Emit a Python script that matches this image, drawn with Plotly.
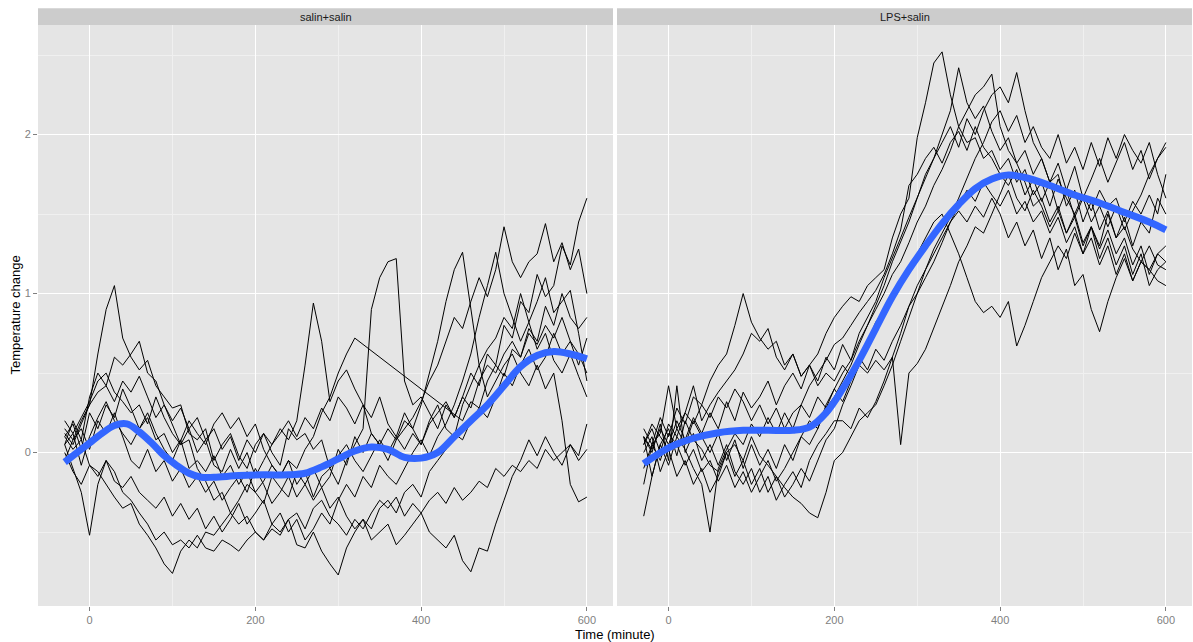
import plotly.graph_objects as go

# Sampling times (minutes) shared by every recorded series: -30 .. 600 every 10 min
TIME = [-30, -20, -10, 0, 10, 20, 30, 40,
        50, 60, 70, 80, 90, 100, 110, 120,
        130, 140, 150, 160, 170, 180, 190, 200,
        210, 220, 230, 240, 250, 260, 270, 280,
        290, 300, 310, 320, 330, 340, 350, 360,
        370, 380, 390, 400, 410, 420, 430, 440,
        450, 460, 470, 480, 490, 500, 510, 520,
        530, 540, 550, 560, 570, 580, 590, 600]

PANELS = ["salin+salin", "LPS+salin"]

# ---- salin+salin : temperature change per animal ----
sal_a = [0.12, 0.05, 0.18, 0.3, 0.62, 0.9, 1.05, 0.72,
         0.6, 0.52, 0.58, 0.42, 0.35, 0.28, 0.3, 0.12,
         0.08, 0.15, -0.05, 0.05, 0.12, -0.02, -0.1, 0.05,
         0.12, 0.0, -0.08, 0.15, 0.08, 0.12, 0.02, 0.08,
         -0.1, -0.02, 0.05, -0.05, -0.12, -0.02, 0.08, 0.0,
         0.1, 0.02, 0.12, 0.05, 0.18, 0.25, 0.32, 0.22,
         0.35, 0.5, 0.42, 0.62, 0.55, 0.8, 0.72, 0.95,
         0.88, 1.12, 0.98, 1.05, 1.3, 1.18, 1.45, 1.6]
sal_b = [0.05, 0.2, 0.08, 0.35, 0.5, 0.42, 0.6, 0.55,
         0.62, 0.7, 0.5, 0.45, 0.3, 0.18, 0.05, 0.08,
         -0.1, -0.18, -0.3, -0.25, -0.38, -0.45, -0.4, -0.5,
         -0.55, -0.48, -0.52, -0.42, -0.58, -0.6, -0.5, -0.62,
         -0.7, -0.77, -0.6, -0.5, -0.42, -0.48, -0.35, -0.3,
         -0.38, -0.25, -0.2, -0.28, -0.12, -0.05, 0.02, 0.12,
         0.08, 0.2, 0.28, 0.22, 0.35, 0.5, 0.42, 0.55,
         0.65, 0.52, 0.6, 0.75, 0.62, 0.7, 0.55, 0.72]
sal_c = [0.05, -0.1, -0.25, -0.52, -0.2, -0.05, -0.12, -0.25,
         -0.3, -0.38, -0.45, -0.55, -0.5, -0.58, -0.55, -0.6,
         -0.52, -0.6, -0.62, -0.55, -0.58, -0.62, -0.55, -0.5,
         -0.55, -0.45, -0.5, -0.42, -0.38, -0.48, -0.35, -0.3,
         -0.4, -0.45, -0.52, -0.42, -0.48, -0.38, -0.3, -0.35,
         -0.28, -0.4, -0.32, -0.38, -0.3, -0.25, -0.32, -0.22,
         -0.3, -0.25, -0.18, -0.22, -0.1, -0.15, -0.08, -0.12,
         -0.05, -0.1, 0.02, -0.05, 0.0, 0.05, -0.02, 0.18]
sal_d = [0.1, 0.02, 0.08, -0.08, -0.12, -0.2, -0.28, -0.35,
         -0.32, -0.45, -0.52, -0.6, -0.7, -0.76, -0.62, -0.55,
         -0.6, -0.5, -0.52, -0.45, -0.38, -0.3, -0.2, -0.25,
         -0.32, -0.15, -0.22, -0.28, -0.12, -0.2, -0.3, -0.22,
         -0.35, -0.28, -0.4, -0.48, -0.42, -0.55, -0.5, -0.45,
         -0.58, -0.52, -0.45, -0.38, -0.5, -0.55, -0.6, -0.52,
         -0.68, -0.75, -0.6, -0.62, -0.45, -0.3, -0.15, -0.05,
         0.08, -0.02, 0.1, 0.0, -0.08, 0.05, -0.05, 0.02]
sal_e = [0.15, 0.08, 0.2, 0.3, 0.38, 0.42, 0.32, 0.45,
         0.38, 0.48, 0.35, 0.22, 0.3, 0.2, 0.28, 0.15,
         0.22, 0.08, 0.15, 0.02, 0.1, -0.05, 0.08, 0.0,
         0.12, 0.05, 0.15, 0.08, 0.2, 0.55, 0.94, 0.7,
         0.32, 0.45, 0.52, 0.4, 0.3, 0.22, 0.35, 0.18,
         0.1, 0.25, 0.15, 0.05, 0.2, 0.3, 0.15, 0.1,
         0.3, 0.42, 0.55, 0.65, 0.72, 0.85, 0.78, 1.0,
         0.82, 0.95, 1.1, 0.88, 0.95, 1.02, 0.75, 0.45]
sal_f = [0.05, 0.12, -0.08, 0.1, 0.22, 0.32, 0.2, 0.12,
         0.05, 0.15, 0.25, 0.12, 0.02, -0.05, 0.08, 0.2,
         0.12, 0.05, 0.18, 0.25, 0.15, 0.22, 0.1, 0.18,
         0.02, -0.08, -0.15, -0.05, -0.2, -0.12, -0.28, -0.15,
         -0.1, -0.2, -0.05, 0.05, 0.15, 0.9, 1.1, 1.2,
         1.22, 0.45, 0.3, 0.35, 0.25, 0.15, 0.3, 0.22,
         0.35, 0.28, 0.45, 0.55, 0.5, 0.62, 0.7, 0.6,
         0.75, 0.68, 0.8, 0.72, 0.85, 0.7, 0.62, 0.5]
sal_g = [0.1, 0.18, 0.02, 0.25, 0.15, 0.3, 0.22, 0.4,
         0.28, 0.15, 0.22, 0.08, 0.12, 0.0, 0.08, -0.1,
         -0.05, -0.12, -0.02, -0.15, -0.08, -0.2, -0.12, -0.25,
         -0.18, -0.08, -0.15, -0.05, -0.1, 0.02, 0.1, 0.25,
         0.35, 0.5, 0.62, 0.72, None, None, None, None,
         None, None, None, None, None, None, None, None,
         0.2, 0.32, 0.28, 0.45, 0.55, 0.48, 0.65, 0.6,
         0.78, 0.7, 0.92, 0.8, 1.0, 0.85, 0.78, 0.85]
sal_h = [-0.05, 0.08, 0.15, 0.02, 0.2, 0.12, 0.25, 0.1,
         -0.05, -0.1, 0.02, -0.12, -0.05, -0.18, -0.1, -0.22,
         -0.15, -0.25, -0.18, -0.3, -0.22, -0.15, -0.25, -0.1,
         -0.2, -0.32, -0.25, -0.15, -0.28, -0.2, -0.1, -0.22,
         -0.15, 0.02, -0.08, 0.1, 0.0, 0.12, 0.05, 0.15,
         0.08, 0.2, 0.15, 0.3, 0.5, 0.7, 0.95, 1.15,
         1.26, 0.9, 0.55, 0.35, 0.45, 0.55, 0.62, 0.5,
         0.42, 0.55, 0.4, 0.5, 0.2, -0.2, -0.31, -0.28]
sal_i = [0.2, 0.12, 0.22, 0.32, 0.45, 0.5, 0.38, 0.32,
         0.25, 0.3, 0.18, 0.35, 0.22, 0.12, 0.05, 0.15,
         0.0, 0.08, -0.08, -0.12, 0.02, -0.1, 0.0, -0.15,
         -0.05, 0.05, 0.12, 0.2, 0.1, 0.22, 0.15, 0.28,
         0.2, 0.35, 0.28, 0.18, 0.3, 0.12, 0.05, -0.05,
         0.08, 0.15, 0.22, 0.32, 0.45, 0.55, 0.7, 0.85,
         0.78, 0.95, 1.1, 0.98, 1.15, 1.42, 1.2, 1.1,
         1.2, 1.25, 1.44, 1.2, 1.32, 1.15, 1.28, 1.0]
sal_j = [0.0, -0.12, -0.2, -0.08, -0.15, -0.05, -0.18, -0.22,
         -0.15, -0.25, -0.3, -0.35, -0.28, -0.4, -0.32, -0.42,
         -0.35, -0.48, -0.4, -0.5, -0.42, -0.32, -0.45, -0.38,
         -0.3, -0.45, -0.38, -0.5, -0.42, -0.55, -0.48, -0.38,
         -0.45, -0.3, -0.2, -0.28, -0.15, -0.22, -0.08, -0.15,
         -0.2, -0.1, 0.0, 0.08, -0.02, 0.1, 0.18, 0.3,
         0.45, 0.62, 0.85, 1.05, 1.26, 1.0, 0.85, 0.7,
         0.82, 0.65, 0.75, 0.58, 0.5, 0.62, 0.48, 0.35]

# ---- LPS+salin : temperature change per animal ----
lps_a = [0.1, 0.02, 0.15, 0.05, 0.2, 0.08, 0.22, 0.12,
         0.25, 0.15, 0.32, 0.2, 0.38, 0.28, 0.35, 0.45,
         0.3, 0.42, 0.5, 0.4, 0.55, 0.62, 0.75, 0.85,
         0.92, 0.98, 0.95, 1.05, 1.1, 1.15, 1.35, 1.5,
         1.6, 1.98, 2.2, 2.45, 2.52, 2.25, 2.05, 1.95,
         1.98, 1.85, 1.9, 1.78, 1.85, 1.7, 1.78, 1.62,
         1.7, 1.55, 1.72, 1.6, 1.5, 1.62, 1.52, 1.65,
         1.55, 1.6, 1.45, 1.58, 1.5, 1.62, 1.5, 1.75]
lps_b = [0.05, 0.18, 0.1, 0.02, 0.15, 0.05, 0.2, 0.1,
         0.0, 0.12, -0.05, 0.08, -0.1, 0.05, -0.08, 0.02,
         -0.1, 0.05, -0.05, 0.1, 0.2, 0.15, 0.3, 0.4,
         0.5, 0.58, 0.7, 0.8, 0.92, 1.05, 1.2, 1.32,
         1.45, 1.6, 1.75, 1.85, 2.0, 2.15, 2.42, 2.2,
         2.1, 2.18, 2.02, 1.9, 1.98, 1.82, 1.9, 1.75,
         1.85, 1.7, 1.82, 1.65, 1.8, 1.6, 1.72, 1.85,
         1.7, 1.82, 1.95, 1.78, 1.9, 1.72, 1.85, 1.92]
lps_c = [-0.2, 0.05, -0.05, 0.12, 0.05, -0.08, 0.02, -0.12,
         -0.05, -0.18, -0.08, -0.22, -0.12, -0.25, -0.15, -0.05,
         -0.18, -0.1, 0.0, 0.1, 0.05, 0.15, 0.28, 0.35,
         0.45, 0.55, 0.68, 0.8, 0.9, 1.0, 1.12, 1.2,
         1.32, 1.45, 1.55, 1.68, 1.78, 1.9, 2.05, 2.15,
         2.25, 2.3, 2.38, 2.05, 1.9, 1.82, 1.7, 1.55,
         1.6, 1.45, 1.55, 1.38, 1.5, 1.32, 1.42, 1.28,
         1.4, 1.25, 1.35, 1.18, 1.3, 1.12, 1.25, 1.2]
lps_d = [0.15, 0.05, 0.22, 0.1, 0.28, 0.18, 0.35, 0.3,
         0.45, 0.55, 0.62, 0.8, 1.0, 0.82, 0.72, 0.65,
         0.7, 0.55, 0.62, 0.48, 0.55, 0.45, 0.6, 0.52,
         0.68, 0.58, 0.75, 0.85, 0.95, 1.1, 1.22, 1.35,
         1.48, 1.6, 1.72, 1.85, 1.95, 2.05, 1.92, 2.1,
         2.0, 2.15, 2.25, 2.3, 2.2, 2.39, 2.15, 1.95,
         1.85, 1.7, 1.75, 1.55, 1.65, 1.45, 1.58, 1.4,
         1.52, 1.35, 1.48, 1.3, 1.45, 1.38, 1.6, 1.5]
lps_e = [-0.4, -0.15, 0.05, 0.15, -0.02, 0.2, 0.08, 0.02,
         -0.08, -0.12, 0.0, -0.15, -0.05, -0.2, -0.1, -0.25,
         -0.15, -0.28, -0.2, -0.1, -0.18, -0.05, 0.08, 0.15,
         0.3, 0.42, 0.55, 0.7, 0.82, 0.9, 1.0, 1.08,
         1.15, 1.25, 1.35, 1.45, 1.5, 1.38, 1.25, 1.1,
         0.95, 0.88, 0.92, 0.85, 0.95, 0.67, 0.8, 0.95,
         1.1, 1.2, 1.3, 1.22, 1.38, 1.25, 1.42, 1.3,
         1.5, 1.35, 1.42, 1.28, 1.2, 1.15, 1.08, 1.05]
lps_f = [0.0, 0.1, -0.12, 0.02, -0.15, -0.05, -0.2, -0.1,
         -0.25, -0.15, 0.0, 0.05, -0.05, 0.1, -0.02, -0.08,
         -0.15, -0.22, -0.28, -0.32, -0.38, -0.41, -0.25, -0.05,
         0.0, 0.1, 0.2, 0.25, 0.3, 0.42, 0.55, 0.7,
         0.85, 1.0, 1.15, 1.25, 1.35, 1.45, 1.52, 1.45,
         1.55, 1.48, 1.6, 1.5, 1.35, 1.45, 1.3, 1.4,
         1.22, 1.35, 1.15, 1.28, 1.05, 1.12, 0.9, 0.76,
         0.95, 1.1, 1.22, 1.08, 1.2, 1.3, 1.18, 1.15]
lps_g = [0.1, -0.15, 0.05, -0.08, 0.1, 0.02, -0.1, -0.2,
         -0.5, -0.1, 0.02, 0.12, 0.05, 0.18, 0.1, 0.22,
         0.12, 0.25, 0.15, 0.3, 0.22, 0.35, 0.28, 0.4,
         0.32, 0.45, 0.55, 0.5, 0.58, 0.52, 0.6, 0.05,
         0.5, 0.56, 0.65, 0.78, 0.92, 1.05, 1.2, 1.3,
         1.42, 1.38, 1.5, 1.62, 1.75, 1.6, 1.52, 1.65,
         1.55, 1.42, 1.52, 1.38, 1.48, 1.3, 1.42, 1.22,
         1.35, 1.18, 1.3, 1.12, 1.25, 1.05, 1.15, 1.2]
lps_h = [0.05, 0.15, 0.0, 0.18, 0.1, 0.25, 0.42, 0.2,
         0.3, 0.38, 0.45, 0.52, 0.62, 0.75, 0.7, 0.78,
         0.6, 0.52, 0.62, 0.48, 0.55, 0.42, 0.5, 0.45,
         0.55, 0.48, 0.6, 0.52, 0.65, 0.58, 0.7, 0.8,
         0.92, 1.05, 1.15, 1.28, 1.38, 1.48, 1.6, 1.72,
         1.85, 1.95, 2.08, 2.15, 2.02, 2.12, 1.95, 2.05,
         1.92, 1.85, 2.0, 1.82, 1.92, 1.78, 1.95, 1.8,
         1.98, 1.85, 2.0, 1.9, 1.82, 1.95, 1.75, 1.6]
lps_i = [0.1, 0.0, 0.18, -0.05, 0.42, 0.0, 0.12, -0.05,
         0.05, -0.08, 0.05, -0.12, -0.2, -0.1, -0.25, -0.15,
         -0.3, -0.2, -0.12, -0.22, -0.05, 0.05, 0.12, 0.2,
         0.2, 0.15, 0.28, 0.22, 0.32, 0.45, 0.6, 0.75,
         0.92, 1.0, 1.1, 1.2, 1.32, 1.45, 1.55, 1.65,
         1.58, 1.7, 1.62, 1.55, 1.65, 1.5, 1.58, 1.45,
         1.52, 1.38, 1.48, 1.32, 1.42, 1.25, 1.35, 1.18,
         1.3, 1.12, 1.25, 1.08, 1.2, 1.15, 1.25, 1.3]
lps_j = [-0.1, 0.05, 0.12, 0.42, 0.15, 0.25, 0.18, 0.3,
         0.22, 0.35, 0.28, 0.4, 0.32, 0.2, 0.3, 0.18,
         0.28, 0.15, 0.25, 0.3, 0.42, 0.5, 0.58, 0.68,
         0.72, 0.8, 0.88, 0.95, 1.02, 1.12, 1.25, 1.4,
         1.68, 1.75, 1.85, 1.92, 1.82, 1.95, 2.02, 1.9,
         2.05, 1.92, 1.85, 1.75, 1.68, 1.78, 1.62, 1.72,
         1.58, 1.7, 1.52, 1.65, 1.48, 1.6, 1.45, 1.55,
         1.42, 1.55, 1.4, 1.52, 1.62, 1.75, 1.85, 1.95]

SALIN_SERIES = [sal_a, sal_b, sal_c, sal_d, sal_e, sal_f, sal_g, sal_h, sal_i, sal_j]
LPS_SERIES = [lps_a, lps_b, lps_c, lps_d, lps_e, lps_f, lps_g, lps_h, lps_i, lps_j]

# Smoothed group trend (loess-style fit)
SMOOTH_T_SAL = [-30, -15, 0, 15, 30, 45, 60, 75, 90, 105, 120, 135, 150, 180, 210, 240, 260, 280,
                300, 320, 340, 360, 380, 400, 420, 440, 460, 480, 500, 520, 540, 560, 580, 600]
SMOOTH_V_SAL = [-0.06, 0.0, 0.06, 0.12, 0.17, 0.18, 0.13, 0.06, -0.02, -0.08, -0.13, -0.155, -0.155,
                -0.145, -0.14, -0.14, -0.13, -0.09, -0.04, 0.01, 0.035, 0.02, -0.03, -0.035, 0.0,
                0.1, 0.2, 0.3, 0.42, 0.54, 0.61, 0.635, 0.62, 0.59]
SMOOTH_T_LPS = [-30, 0, 30, 60, 90, 120, 150, 170, 190, 210, 230, 250, 270, 290, 310, 330, 350,
                370, 390, 410, 430, 460, 490, 520, 550, 580, 600]
SMOOTH_V_LPS = [-0.07, 0.03, 0.09, 0.125, 0.14, 0.14, 0.14, 0.16, 0.25, 0.4, 0.58, 0.78, 0.98,
                1.15, 1.3, 1.44, 1.56, 1.66, 1.72, 1.745, 1.73, 1.68, 1.62, 1.57, 1.51, 1.45, 1.40]

X_TICKS = [0, 200, 400, 600]
Y_TICKS = [0, 1, 2]

FONT = "Liberation Sans, Arial, sans-serif"
fig = go.Figure()

for idx, (series, smooth_t, smooth_v) in enumerate(
        [(SALIN_SERIES, SMOOTH_T_SAL, SMOOTH_V_SAL), (LPS_SERIES, SMOOTH_T_LPS, SMOOTH_V_LPS)]):
    xa = "x" if idx == 0 else "x2"
    ya = "y" if idx == 0 else "y2"
    for s in series:
        fig.add_trace(go.Scatter(x=TIME, y=s, mode="lines", xaxis=xa, yaxis=ya,
                                 line=dict(color="black", width=1), connectgaps=True,
                                 showlegend=False, hoverinfo="skip"))
    fig.add_trace(go.Scatter(x=smooth_t, y=smooth_v, mode="lines", xaxis=xa, yaxis=ya,
                             line=dict(color="#3366FF", width=7, shape="spline", smoothing=1.0),
                             showlegend=False, hoverinfo="skip"))

W, H = 1193, 642
ML, MR, MT, MB = 38, 1, 25, 36
plot_w = W - ML - MR
plot_h = H - MT - MB
gap = 4
panel_w = (plot_w - gap) / 2
dom1 = [0, panel_w / plot_w]
dom2 = [(panel_w + gap) / plot_w, 1]

X_RANGE = [-62.2, 631.5]
Y_RANGE = [-0.965, 2.689]

xaxis_common = dict(range=X_RANGE, tickvals=X_TICKS, ticktext=[str(v) for v in X_TICKS],
                    showgrid=True, gridcolor="white", gridwidth=1.1, zeroline=False,
                    ticks="outside", ticklen=4, tickcolor="#7f7f7f", tickwidth=1,
                    tickfont=dict(family=FONT, size=11, color="#7f7f7f"),
                    minor=dict(dtick=100, tick0=0, showgrid=True, gridcolor="#f0f0f0",
                               gridwidth=0.6, ticks=""),
                    showline=False, fixedrange=True)
yaxis_common = dict(range=Y_RANGE, tickvals=Y_TICKS, ticktext=[str(v) for v in Y_TICKS],
                    showgrid=True, gridcolor="white", gridwidth=1.1, zeroline=False,
                    ticklen=4, tickcolor="#7f7f7f", tickwidth=1,
                    tickfont=dict(family=FONT, size=11, color="#7f7f7f"),
                    minor=dict(dtick=0.5, tick0=0, showgrid=True, gridcolor="#f0f0f0",
                               gridwidth=0.6, ticks=""),
                    showline=False, fixedrange=True)

strip_h = 16.7 / plot_h
shapes = []
annotations = []
for dom, label in zip([dom1, dom2], PANELS):
    shapes.append(dict(type="rect", xref="paper", yref="paper", x0=dom[0], x1=dom[1],
                       y0=1, y1=1 + strip_h, fillcolor="#cccccc", line=dict(width=0),
                       layer="below"))
    annotations.append(dict(text=label, xref="paper", yref="paper", x=(dom[0] + dom[1]) / 2,
                            y=1 + strip_h / 2, showarrow=False, xanchor="center",
                            yanchor="middle", font=dict(family=FONT, size=11, color="#1a1a1a")))

annotations.append(dict(text="Time (minute)", xref="paper", yref="paper", x=0.5, y=0,
                        yshift=-28, showarrow=False, xanchor="center", yanchor="middle",
                        font=dict(family=FONT, size=13, color="black")))
annotations.append(dict(text="Temperature change", xref="paper", yref="paper", x=0, y=0.5,
                        xshift=-23, showarrow=False, textangle=-90, xanchor="center",
                        yanchor="middle", font=dict(family=FONT, size=13, color="black")))

fig.update_layout(
    width=W, height=H,
    margin=dict(l=ML, r=MR, t=MT, b=MB, pad=0),
    paper_bgcolor="white", plot_bgcolor="#e5e5e5",
    xaxis=dict(domain=dom1, anchor="y", **xaxis_common),
    xaxis2=dict(domain=dom2, anchor="y2", **xaxis_common),
    yaxis=dict(domain=[0, 1], anchor="x", ticks="outside", **yaxis_common),
    yaxis2=dict(domain=[0, 1], anchor="x2", showticklabels=False, ticks="", **yaxis_common),
    shapes=shapes, annotations=annotations, showlegend=False,
)

fig.write_html("out.html")
